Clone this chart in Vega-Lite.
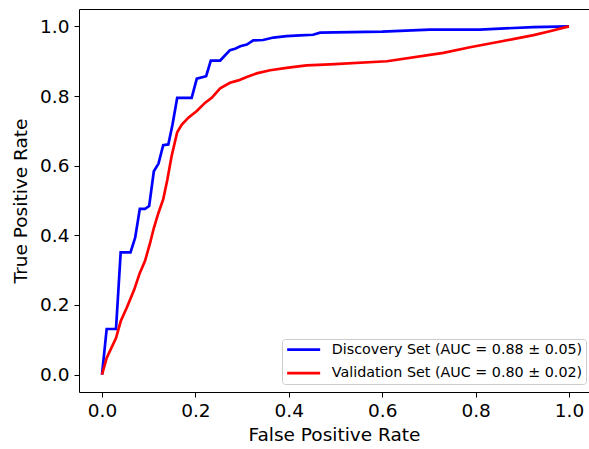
{
  "$schema": "https://vega.github.io/schema/vega-lite/v6.json",
  "autosize": {"type": "none"},
  "padding": {"left": 79, "top": 9, "right": 0, "bottom": 57},
  "width": 510,
  "height": 383,
  "config": {"view": {"stroke": null}, "font": "DejaVu Sans"},
  "data": {"values": [
    {"i":0,"fpr":0,"tpr":0,"set":"Discovery Set (AUC = 0.88 ± 0.05)"},
    {"i":1,"fpr":0.010,"tpr":0.131,"set":"Discovery Set (AUC = 0.88 ± 0.05)"},
    {"i":2,"fpr":0.030,"tpr":0.131,"set":"Discovery Set (AUC = 0.88 ± 0.05)"},
    {"i":3,"fpr":0.040,"tpr":0.351,"set":"Discovery Set (AUC = 0.88 ± 0.05)"},
    {"i":4,"fpr":0.061,"tpr":0.351,"set":"Discovery Set (AUC = 0.88 ± 0.05)"},
    {"i":5,"fpr":0.071,"tpr":0.393,"set":"Discovery Set (AUC = 0.88 ± 0.05)"},
    {"i":6,"fpr":0.081,"tpr":0.476,"set":"Discovery Set (AUC = 0.88 ± 0.05)"},
    {"i":7,"fpr":0.092,"tpr":0.476,"set":"Discovery Set (AUC = 0.88 ± 0.05)"},
    {"i":8,"fpr":0.101,"tpr":0.484,"set":"Discovery Set (AUC = 0.88 ± 0.05)"},
    {"i":9,"fpr":0.111,"tpr":0.584,"set":"Discovery Set (AUC = 0.88 ± 0.05)"},
    {"i":10,"fpr":0.121,"tpr":0.606,"set":"Discovery Set (AUC = 0.88 ± 0.05)"},
    {"i":11,"fpr":0.131,"tpr":0.659,"set":"Discovery Set (AUC = 0.88 ± 0.05)"},
    {"i":12,"fpr":0.142,"tpr":0.661,"set":"Discovery Set (AUC = 0.88 ± 0.05)"},
    {"i":13,"fpr":0.151,"tpr":0.718,"set":"Discovery Set (AUC = 0.88 ± 0.05)"},
    {"i":14,"fpr":0.161,"tpr":0.795,"set":"Discovery Set (AUC = 0.88 ± 0.05)"},
    {"i":15,"fpr":0.192,"tpr":0.795,"set":"Discovery Set (AUC = 0.88 ± 0.05)"},
    {"i":16,"fpr":0.203,"tpr":0.850,"set":"Discovery Set (AUC = 0.88 ± 0.05)"},
    {"i":17,"fpr":0.223,"tpr":0.857,"set":"Discovery Set (AUC = 0.88 ± 0.05)"},
    {"i":18,"fpr":0.233,"tpr":0.902,"set":"Discovery Set (AUC = 0.88 ± 0.05)"},
    {"i":19,"fpr":0.253,"tpr":0.902,"set":"Discovery Set (AUC = 0.88 ± 0.05)"},
    {"i":20,"fpr":0.274,"tpr":0.932,"set":"Discovery Set (AUC = 0.88 ± 0.05)"},
    {"i":21,"fpr":0.285,"tpr":0.936,"set":"Discovery Set (AUC = 0.88 ± 0.05)"},
    {"i":22,"fpr":0.296,"tpr":0.943,"set":"Discovery Set (AUC = 0.88 ± 0.05)"},
    {"i":23,"fpr":0.310,"tpr":0.948,"set":"Discovery Set (AUC = 0.88 ± 0.05)"},
    {"i":24,"fpr":0.324,"tpr":0.960,"set":"Discovery Set (AUC = 0.88 ± 0.05)"},
    {"i":25,"fpr":0.345,"tpr":0.961,"set":"Discovery Set (AUC = 0.88 ± 0.05)"},
    {"i":26,"fpr":0.367,"tpr":0.968,"set":"Discovery Set (AUC = 0.88 ± 0.05)"},
    {"i":27,"fpr":0.395,"tpr":0.972,"set":"Discovery Set (AUC = 0.88 ± 0.05)"},
    {"i":28,"fpr":0.424,"tpr":0.974,"set":"Discovery Set (AUC = 0.88 ± 0.05)"},
    {"i":29,"fpr":0.452,"tpr":0.976,"set":"Discovery Set (AUC = 0.88 ± 0.05)"},
    {"i":30,"fpr":0.467,"tpr":0.982,"set":"Discovery Set (AUC = 0.88 ± 0.05)"},
    {"i":31,"fpr":0.600,"tpr":0.985,"set":"Discovery Set (AUC = 0.88 ± 0.05)"},
    {"i":32,"fpr":0.702,"tpr":0.991,"set":"Discovery Set (AUC = 0.88 ± 0.05)"},
    {"i":33,"fpr":0.809,"tpr":0.991,"set":"Discovery Set (AUC = 0.88 ± 0.05)"},
    {"i":34,"fpr":0.924,"tpr":0.998,"set":"Discovery Set (AUC = 0.88 ± 0.05)"},
    {"i":35,"fpr":1.0,"tpr":1.0,"set":"Discovery Set (AUC = 0.88 ± 0.05)"},
    {"i":0,"fpr":0,"tpr":0,"set":"Validation Set (AUC = 0.80 ± 0.02)"},
    {"i":1,"fpr":0.010,"tpr":0.048,"set":"Validation Set (AUC = 0.80 ± 0.02)"},
    {"i":2,"fpr":0.030,"tpr":0.105,"set":"Validation Set (AUC = 0.80 ± 0.02)"},
    {"i":3,"fpr":0.040,"tpr":0.153,"set":"Validation Set (AUC = 0.80 ± 0.02)"},
    {"i":4,"fpr":0.053,"tpr":0.192,"set":"Validation Set (AUC = 0.80 ± 0.02)"},
    {"i":5,"fpr":0.069,"tpr":0.244,"set":"Validation Set (AUC = 0.80 ± 0.02)"},
    {"i":6,"fpr":0.081,"tpr":0.292,"set":"Validation Set (AUC = 0.80 ± 0.02)"},
    {"i":7,"fpr":0.092,"tpr":0.326,"set":"Validation Set (AUC = 0.80 ± 0.02)"},
    {"i":8,"fpr":0.103,"tpr":0.378,"set":"Validation Set (AUC = 0.80 ± 0.02)"},
    {"i":9,"fpr":0.111,"tpr":0.421,"set":"Validation Set (AUC = 0.80 ± 0.02)"},
    {"i":10,"fpr":0.121,"tpr":0.465,"set":"Validation Set (AUC = 0.80 ± 0.02)"},
    {"i":11,"fpr":0.131,"tpr":0.503,"set":"Validation Set (AUC = 0.80 ± 0.02)"},
    {"i":12,"fpr":0.140,"tpr":0.560,"set":"Validation Set (AUC = 0.80 ± 0.02)"},
    {"i":13,"fpr":0.149,"tpr":0.627,"set":"Validation Set (AUC = 0.80 ± 0.02)"},
    {"i":14,"fpr":0.161,"tpr":0.696,"set":"Validation Set (AUC = 0.80 ± 0.02)"},
    {"i":15,"fpr":0.171,"tpr":0.718,"set":"Validation Set (AUC = 0.80 ± 0.02)"},
    {"i":16,"fpr":0.185,"tpr":0.738,"set":"Validation Set (AUC = 0.80 ± 0.02)"},
    {"i":17,"fpr":0.203,"tpr":0.757,"set":"Validation Set (AUC = 0.80 ± 0.02)"},
    {"i":18,"fpr":0.221,"tpr":0.781,"set":"Validation Set (AUC = 0.80 ± 0.02)"},
    {"i":19,"fpr":0.235,"tpr":0.795,"set":"Validation Set (AUC = 0.80 ± 0.02)"},
    {"i":20,"fpr":0.253,"tpr":0.822,"set":"Validation Set (AUC = 0.80 ± 0.02)"},
    {"i":21,"fpr":0.274,"tpr":0.838,"set":"Validation Set (AUC = 0.80 ± 0.02)"},
    {"i":22,"fpr":0.292,"tpr":0.845,"set":"Validation Set (AUC = 0.80 ± 0.02)"},
    {"i":23,"fpr":0.310,"tpr":0.855,"set":"Validation Set (AUC = 0.80 ± 0.02)"},
    {"i":24,"fpr":0.331,"tpr":0.865,"set":"Validation Set (AUC = 0.80 ± 0.02)"},
    {"i":25,"fpr":0.360,"tpr":0.874,"set":"Validation Set (AUC = 0.80 ± 0.02)"},
    {"i":26,"fpr":0.395,"tpr":0.881,"set":"Validation Set (AUC = 0.80 ± 0.02)"},
    {"i":27,"fpr":0.438,"tpr":0.888,"set":"Validation Set (AUC = 0.80 ± 0.02)"},
    {"i":28,"fpr":0.488,"tpr":0.891,"set":"Validation Set (AUC = 0.80 ± 0.02)"},
    {"i":29,"fpr":0.610,"tpr":0.900,"set":"Validation Set (AUC = 0.80 ± 0.02)"},
    {"i":30,"fpr":0.731,"tpr":0.924,"set":"Validation Set (AUC = 0.80 ± 0.02)"},
    {"i":31,"fpr":0.788,"tpr":0.940,"set":"Validation Set (AUC = 0.80 ± 0.02)"},
    {"i":32,"fpr":0.859,"tpr":0.958,"set":"Validation Set (AUC = 0.80 ± 0.02)"},
    {"i":33,"fpr":0.924,"tpr":0.975,"set":"Validation Set (AUC = 0.80 ± 0.02)"},
    {"i":34,"fpr":0.959,"tpr":0.986,"set":"Validation Set (AUC = 0.80 ± 0.02)"},
    {"i":35,"fpr":1.0,"tpr":1.0,"set":"Validation Set (AUC = 0.80 ± 0.02)"}
  ]},
  "resolve": {"axis": {"x": "independent"}},
  "layer": [
    {
      "mark": {"type": "line", "strokeWidth": 2.7, "clip": true},
      "encoding": {
        "x": {"field": "fpr", "type": "quantitative",
              "scale": {"domain": [-0.04925, 1.0428], "nice": false, "zero": false},
              "axis": {"orient": "bottom", "values": [0, 0.2, 0.4, 0.6, 0.8, 1.0], "format": ".1f", "grid": false,
                       "title": "False Positive Rate", "titleFontSize": 18.5, "titleFontWeight": "normal", "titleColor": "black", "titleFont": "DejaVu Sans", "titlePadding": 6,
                       "labelFontSize": 18.5, "labelColor": "black", "labelFont": "DejaVu Sans", "labelPadding": 4,
                       "tickSize": 5, "tickWidth": 1, "tickColor": "black", "domainColor": "black", "domainWidth": 1}},
        "y": {"field": "tpr", "type": "quantitative",
              "scale": {"domain": [-0.05, 1.05], "nice": false, "zero": false},
              "axis": {"values": [0, 0.2, 0.4, 0.6, 0.8, 1.0], "format": ".1f", "grid": false,
                       "title": "True Positive Rate", "titleFontSize": 18.5, "titleFontWeight": "normal", "titleColor": "black", "titleFont": "DejaVu Sans", "titlePadding": 9,
                       "labelFontSize": 18.5, "labelColor": "black", "labelFont": "DejaVu Sans", "labelPadding": 5,
                       "tickSize": 5, "tickWidth": 1, "tickColor": "black", "domainColor": "black", "domainWidth": 1}},
        "order": {"field": "i", "type": "quantitative"},
        "color": {"field": "set", "type": "nominal",
                  "scale": {"domain": ["Discovery Set (AUC = 0.88 ± 0.05)", "Validation Set (AUC = 0.80 ± 0.02)"], "range": ["#0000ff", "#ff0000"]},
                  "legend": {"title": null, "orient": "none", "legendX": 203, "legendY": 330,
                             "symbolType": "M-1,0L5,0", "symbolSize": 121, "symbolStrokeWidth": 2.7,
                             "labelFontSize": 14.3, "labelFont": "DejaVu Sans", "labelColor": "black", "labelOffset": 32, "labelLimit": 400,
                             "rowPadding": 8.4, "padding": 3.5, "strokeColor": "#cccccc", "fillColor": "rgba(255,255,255,0.8)", "cornerRadius": 3}}
      }
    },
    {
      "mark": {"type": "line", "strokeOpacity": 0},
      "encoding": {
        "x": {"field": "fpr", "type": "quantitative",
              "axis": {"orient": "top", "labels": false, "ticks": false, "title": null, "grid": false, "domainColor": "black", "domainWidth": 1}},
        "y": {"field": "tpr", "type": "quantitative"},
        "detail": {"field": "set"},
        "order": {"field": "i", "type": "quantitative"}
      }
    }
  ]
}
